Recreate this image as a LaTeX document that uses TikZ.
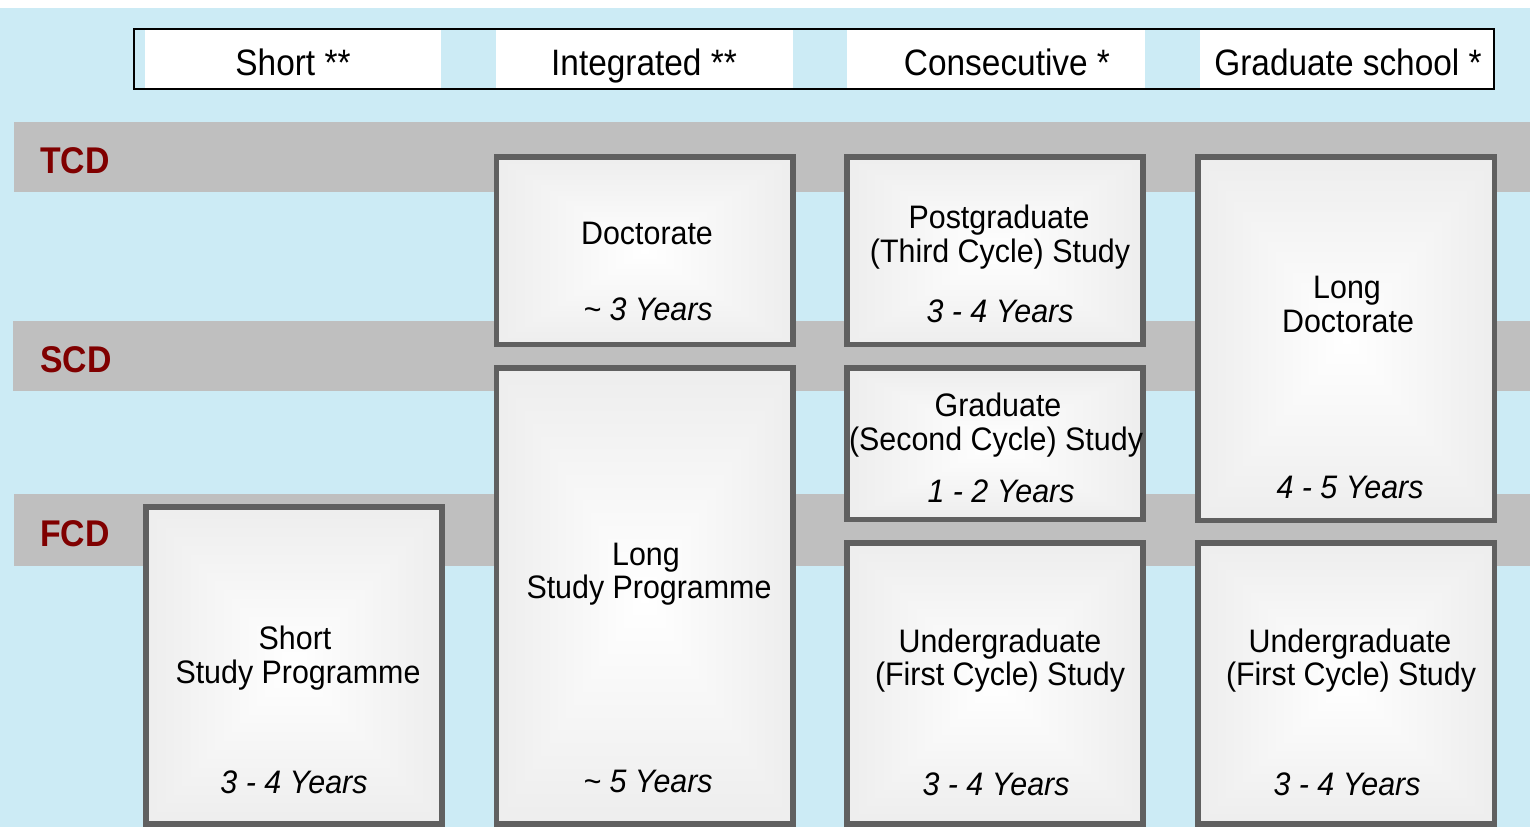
\documentclass[tikz,border=0pt]{standalone}
\usepackage{fontspec}
\setmainfont{Liberation Sans}
\usetikzlibrary{fit}

\definecolor{skyback}{RGB}{204,235,245}
\definecolor{bandgrey}{RGB}{191,191,191}
\definecolor{frame}{RGB}{96,96,96}
\definecolor{cyclered}{RGB}{128,0,0}

% light centre fading to grey towards the rectangle's edges
\pgfdeclarefunctionalshading{boxglow}{\pgfpoint{-50bp}{-50bp}}{\pgfpoint{50bp}{50bp}}{}{%
  abs exch abs 2 copy lt {exch} if pop
  50 div 0.14 mul neg 1 add dup dup}

% slightly taller lettering
\newcommand\tallhead[1]{\scalebox{1}[1.1]{#1}}
\newcommand\tallbox[1]{\scalebox{1}[1.07]{#1}}

\tikzset{
  band/.style={fill=bandgrey},
  cyclelabel/.style={anchor=base west, inner sep=0, text=cyclered,
    font=\fontsize{33.8bp}{36bp}\selectfont\bfseries},
  headcell/.style={fill=white, inner sep=0},
  headtext/.style={anchor=base, inner sep=0, font=\fontsize{33.4bp}{36bp}\selectfont},
  studybox/.style={draw=frame, line width=5.5bp, shading=boxglow, inner sep=0},
  boxtext/.style={anchor=base, inner sep=0, font=\fontsize{30.4bp}{34bp}\selectfont},
  yeartext/.style={anchor=base, inner sep=0, font=\fontsize{30.4bp}{34bp}\selectfont\itshape},
}

\begin{document}
\begin{tikzpicture}[x=1bp, y=-1bp]
  % canvas
  \fill[white] (0,0) rectangle (1530,827);
  \fill[skyback] (0,8) rectangle (1530,827);
  \useasboundingbox (0,0) rectangle (1530,827);

  % cycle bands
  \fill[band] (14,122) rectangle (1530,192);
  \fill[band] (13,321) rectangle (1530,391);
  \fill[band] (14,494) rectangle (1530,566);
  \node[cyclelabel] (tcd) at (40,173) {\tallhead{TCD}};
  \node[cyclelabel] (scd) at (40,372) {\tallhead{SCD}};
  \node[cyclelabel] (fcd) at (40,546) {\tallhead{FCD}};

  % header row
  \node[headcell, fit={(145,29) (441,88)}] (hshort) {};
  \node[headcell, fit={(496,29) (793,88)}] (hint) {};
  \node[headcell, fit={(847,29) (1145,88)}] (hcons) {};
  \node[headcell, fit={(1200,29) (1494,88)}] (hgrad) {};
  \draw[black, line width=1.5bp] (133.75,28.75) rectangle (1493.75,88.75);
  \node[headtext] (tshort) at (293,75) {\tallhead{Short **}};
  \node[headtext] (tint) at (644,75) {\tallhead{Integrated **}};
  \node[headtext] (tcons) at (1007,75) {\tallhead{Consecutive *}};
  \node[headtext] (tgrad) at (1348,75) {\tallhead{Graduate school *}};

  % programme boxes (border centre lines)
  \node[studybox, fit={(145.75,506.75) (441.75,823.75)}] (short) {};
  \node[studybox, fit={(496.25,156.75) (792.75,344.25)}] (doc) {};
  \node[studybox, fit={(496.25,367.75) (792.75,823.75)}] (long) {};
  \node[studybox, fit={(847,156.75) (1143,344.25)}] (post) {};
  \node[studybox, fit={(847,368) (1143,519.5)}] (grad) {};
  \node[studybox, fit={(847,542.75) (1143,823.75)}] (under) {};
  \node[studybox, fit={(1197.75,156.75) (1494.5,520.25)}] (ldoc) {};
  \node[studybox, fit={(1197.75,542.75) (1494.5,823.75)}] (gunder) {};

  % texts: short study programme
  \node[boxtext] (short1) at (295,649) {\tallbox{Short}};
  \node[boxtext] (short2) at (298,683) {\tallbox{Study Programme}};
  \node[yeartext] (shorty) at (294,793) {\tallbox{3 - 4 Years}};

  % doctorate
  \node[boxtext] (doc1) at (647,244) {\tallbox{Doctorate}};
  \node[yeartext] (docy) at (648,320) {\tallbox{\textasciitilde\ 3 Years}};

  % long study programme
  \node[boxtext] (long1) at (646,565) {\tallbox{Long}};
  \node[boxtext] (long2) at (649,598) {\tallbox{Study Programme}};
  \node[yeartext] (longy) at (648,792) {\tallbox{\textasciitilde\ 5 Years}};

  % postgraduate
  \node[boxtext] (post1) at (999,228) {\tallbox{Postgraduate}};
  \node[boxtext] (post2) at (1000,262) {\tallbox{(Third Cycle) Study}};
  \node[yeartext] (posty) at (1000,322) {\tallbox{3 - 4 Years}};

  % graduate
  \node[boxtext] (grad1) at (998,416) {\tallbox{Graduate}};
  \node[boxtext] (grad2) at (996,450) {\tallbox{(Second Cycle) Study}};
  \node[yeartext] (grady) at (1001,502) {\tallbox{1 - 2 Years}};

  % undergraduate, consecutive
  \node[boxtext] (under1) at (1000,652) {\tallbox{Undergraduate}};
  \node[boxtext] (under2) at (1000,685) {\tallbox{(First Cycle) Study}};
  \node[yeartext] (undery) at (996,795) {\tallbox{3 - 4 Years}};

  % long doctorate
  \node[boxtext] (ldoc1) at (1347,298) {\tallbox{Long}};
  \node[boxtext] (ldoc2) at (1348,332) {\tallbox{Doctorate}};
  \node[yeartext] (ldocy) at (1350,498) {\tallbox{4 - 5 Years}};

  % undergraduate, graduate school
  \node[boxtext] (gunder1) at (1350,652) {\tallbox{Undergraduate}};
  \node[boxtext] (gunder2) at (1351,685) {\tallbox{(First Cycle) Study}};
  \node[yeartext] (gundery) at (1347,795) {\tallbox{3 - 4 Years}};
\end{tikzpicture}
\end{document}
